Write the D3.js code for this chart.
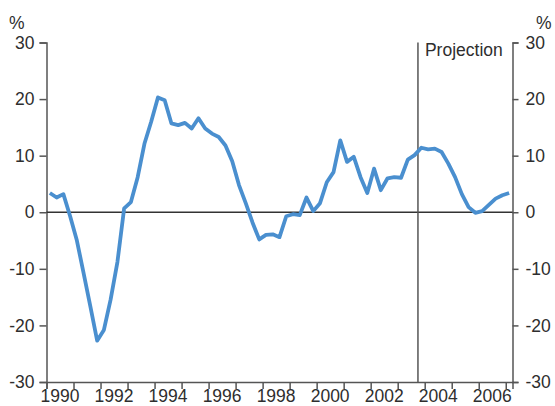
<!DOCTYPE html>
<html>
<head>
<meta charset="utf-8">
<script src="https://cdn.jsdelivr.net/npm/d3@7"></script>
<style>
  html, body { margin: 0; padding: 0; background: #fff; }
  svg { display: block; }
  text { font-family: "Liberation Sans", Arial, sans-serif; font-size: 17.5px; fill: #2e2e2e; }
</style>
</head>
<body>
<svg id="chart" width="555" height="406"></svg>
<script>
// Quarterly series, Q1 1990 to Q1 2007 (per cent)
const startYear = 1990;
const values = [
  3.4, 2.6, 3.2, -0.7,
  -5.0, -10.8, -16.7, -22.7,
  -20.8, -15.4, -8.8, 0.7,
  1.8, 6.2, 12.1, 16.0,
  20.3, 19.8, 15.7, 15.4,
  15.8, 14.8, 16.6, 14.8,
  13.9, 13.3, 11.8, 9.0,
  4.8, 1.6, -1.8, -4.8,
  -4.0, -3.9, -4.4, -0.7,
  -0.35, -0.5, 2.6, 0.2,
  1.6, 5.3, 7.1, 12.7,
  8.9, 9.8, 6.2, 3.4,
  7.7, 3.9, 6.0, 6.2,
  6.1, 9.3, 10.1, 11.4,
  11.1, 11.25, 10.65, 8.6,
  6.2, 3.2, 0.9, -0.1,
  0.2, 1.3, 2.4, 3.0,
  3.4
];
const yTicks = [-30, -20, -10, 0, 10, 20, 30];
const yearTicks = d3.range(1990, 2008);
const yearLabels = d3.range(1990, 2007, 2);
const projectionStart = 2003.75;
const projectionLabel = "Projection";
const unitLabel = "%";

// Each quarter is plotted at its mid-point
const data = values.map((v, i) => ({ t: startYear + (i + 0.5) / 4, v }));

const svg = d3.select("#chart");
const plotLeft = 46.5, plotRight = 512.5, plotTop = 42.5, plotBottom = 382;

const x = d3.scaleLinear().domain([1990, 2007.25]).range([plotLeft, plotRight]);
const y = d3.scaleLinear().domain([-30, 30]).range([plotBottom, plotTop]);

const axisColor = "#555";
const plainNumber = d => String(d);   // hyphen-minus for negatives

function styleAxis(g) {
  g.select(".domain").attr("stroke", axisColor).attr("stroke-width", 1.5);
  g.selectAll(".tick line").attr("stroke", axisColor).attr("stroke-width", 1.5);
  g.selectAll(".tick text").attr("font-size", null).attr("font-family", null).attr("fill", null);
}

// Left axis
const yLeft = d3.axisLeft(y).tickValues(yTicks).tickSize(7).tickPadding(5).tickFormat(plainNumber);
svg.append("g").attr("transform", `translate(${plotLeft},0)`).call(yLeft).call(styleAxis);

// Right axis
const yRight = d3.axisRight(y).tickValues(yTicks).tickSize(6).tickPadding(7).tickFormat(plainNumber);
svg.append("g").attr("transform", `translate(${plotRight},0)`).call(yRight).call(styleAxis);

// Bottom axis: ticks at year boundaries, labels centred within the year
const xAxis = d3.axisBottom(x).tickValues(yearTicks).tickSize(7).tickFormat("");
svg.append("g").attr("transform", `translate(0,${plotBottom})`).call(xAxis).call(styleAxis);

svg.append("g").selectAll("text")
  .data(yearLabels)
  .join("text")
  .attr("x", d => x(d + 0.5))
  .attr("y", 402)
  .attr("text-anchor", "middle")
  .text(d => d);

// Zero line
svg.append("line")
  .attr("x1", plotLeft).attr("x2", plotRight)
  .attr("y1", y(0)).attr("y2", y(0))
  .attr("stroke", "#333").attr("stroke-width", 1.3);

// Projection divider
svg.append("line")
  .attr("x1", x(projectionStart)).attr("x2", x(projectionStart))
  .attr("y1", plotTop).attr("y2", plotBottom)
  .attr("stroke", axisColor).attr("stroke-width", 1.5);

svg.append("text")
  .attr("x", x(projectionStart) + 7)
  .attr("y", 56)
  .text(projectionLabel);

// Unit labels
svg.append("text").attr("x", 9).attr("y", 29).text(unitLabel);
svg.append("text").attr("x", 536).attr("y", 29).text(unitLabel);

// Series line
const line = d3.line().x(d => x(d.t)).y(d => y(d.v));
svg.append("path")
  .datum(data)
  .attr("fill", "none")
  .attr("stroke", "#4a8fcf")
  .attr("stroke-width", 3.8)
  .attr("stroke-linejoin", "round")
  .attr("stroke-linecap", "butt")
  .attr("d", line);
</script>
</body>
</html>
